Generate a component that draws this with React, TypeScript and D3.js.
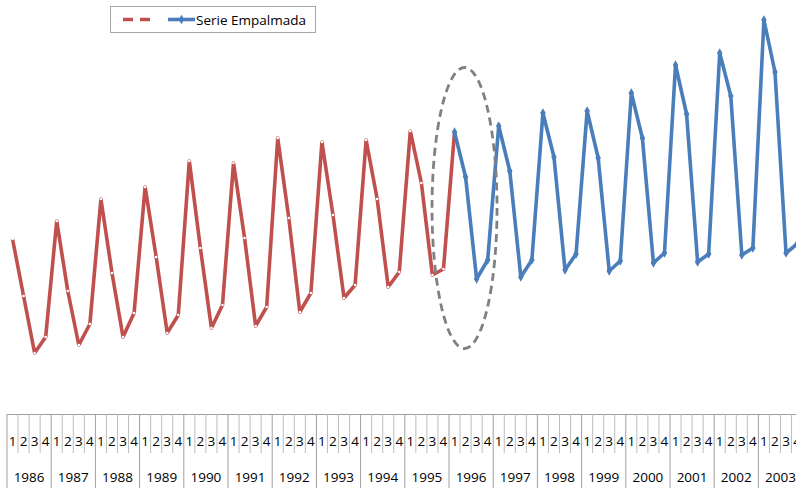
import React from "react";
import * as d3 from "d3";

const years = [1986, 1987, 1988, 1989, 1990, 1991, 1992, 1993, 1994, 1995, 1996, 1997, 1998, 1999, 2000, 2001, 2002, 2003];
const quarterLabels = ["1", "2", "3", "4"];

// Serie antigua (1986 Q1 - 1996 Q1)
const oldSeries = [
  161, 104, 47, 63,
  179, 109, 55, 76,
  201, 127, 63, 87,
  213, 143, 67, 85,
  239, 152, 72, 95,
  237, 162, 74, 93,
  262, 182, 88, 107,
  258, 185, 102, 115,
  260, 201, 113, 128,
  269, 217, 125, 131,
  268,
];

// Serie Empalmada (1996 Q1 - 2003 Q4)
const newSeries = [
  268, 223, 121, 140,
  274, 229, 123, 140,
  287, 243, 130, 146,
  289, 242, 129, 139,
  307, 262, 137, 147,
  335, 286, 138, 146,
  347, 304, 145, 152,
  380, 328, 147, 156,
];
const newStart = 40;

const legendLabel = "Serie Empalmada";

const W = 796;
const H = 488;
const FONT = "'Open Sans', 'Liberation Sans', sans-serif";

export default function App() {
  const nQ = years.length * 4;
  const axisLeft = 7;
  const qW = 11.05;
  const x = d3
    .scaleBand<number>()
    .domain(d3.range(nQ))
    .range([axisLeft, axisLeft + nQ * qW])
    .paddingInner(0)
    .paddingOuter(0);
  const cx = (i: number) => (x(i) as number) + x.bandwidth() / 2;
  const y = d3.scaleLinear().domain([0, 400]).range([400, 0]);

  const oldPts: [number, number][] = oldSeries.map((v, i) => [cx(i), y(v)]);
  const newPts: [number, number][] = newSeries.map((v, i) => [cx(i + newStart), y(v)]);
  const line = d3.line<[number, number]>().x((d) => d[0]).y((d) => d[1]);
  const diamond = d3.symbol().type(d3.symbolDiamond).size(26)() as string;

  const red = "#C0504D";
  const blue = "#4A7EBB";

  const axisTop = 414;
  const qLineBottom = 453;

  // ellipse around splice point
  const spliceX = cx(newStart);
  const ellCx = spliceX + 10;
  const ellCy = y(192);

  return (
    <svg width={W} height={H} style={{ position: "absolute", left: 0, top: 0, background: "#fff" }} fontFamily={FONT}>
      <rect width={W} height={H} fill="#fff" />
      {/* old series */}
      <path d={line(oldPts) || ""} fill="none" stroke={red} strokeWidth={3.6} strokeLinejoin="round" />
      {oldPts.map((p, i) => (
        <circle key={"o" + i} cx={p[0]} cy={p[1]} r={1.3} fill="#fff" />
      ))}
      {/* new series */}
      <path d={line(newPts) || ""} fill="none" stroke={blue} strokeWidth={3.6} strokeLinejoin="round" />
      {newPts.map((p, i) => (
        <path key={"n" + i} d={diamond} transform={`translate(${p[0]},${p[1]})`} fill={blue} />
      ))}
      {/* ellipse */}
      <ellipse cx={ellCx} cy={ellCy} rx={32.5} ry={140.5} fill="none" stroke="#808080" strokeWidth={2.8} strokeDasharray="8,5" />

      {/* legend */}
      <rect x={110.5} y={6.5} width={205} height={26} fill="#fff" stroke="#A6A6A6" strokeWidth={1} />
      <line x1={123} x2={150} y1={19.5} y2={19.5} stroke={red} strokeWidth={3.6} strokeDasharray="10,7" />
      <line x1={168} x2={195} y1={19.5} y2={19.5} stroke={blue} strokeWidth={3.6} />
      <path d={diamond} transform="translate(181.5,19.5)" fill={blue} />
      <text x={196} y={24.5} fontSize={13.5} fill="#000">{legendLabel}</text>

      {/* category axis */}
      <line x1={axisLeft} x2={W} y1={axisTop + 0.5} y2={axisTop + 0.5} stroke="#A0A0A0" strokeWidth={1} />
      {d3.range(nQ).map((i) =>
        i % 4 === 0 ? null : (
          <line key={"ql" + i} x1={x(i) as number} x2={x(i) as number} y1={axisTop} y2={qLineBottom} stroke="#BDBDBD" strokeWidth={1} />
        )
      )}
      {years.map((yr, k) => (
        <line key={"yl" + yr} x1={x(k * 4) as number} x2={x(k * 4) as number} y1={axisTop} y2={H} stroke="#A0A0A0" strokeWidth={1} />
      ))}
      {d3.range(nQ).map((i) => (
        <text key={"qt" + i} x={cx(i)} y={446} fontSize={13.5} textAnchor="middle" fill="#000">
          {quarterLabels[i % 4]}
        </text>
      ))}
      {years.map((yr, k) => (
        <text key={"yt" + yr} x={(x(k * 4) as number) + 2 * qW} y={482} fontSize={13.5} textAnchor="middle" fill="#000">
          {yr}
        </text>
      ))}
    </svg>
  );
}
